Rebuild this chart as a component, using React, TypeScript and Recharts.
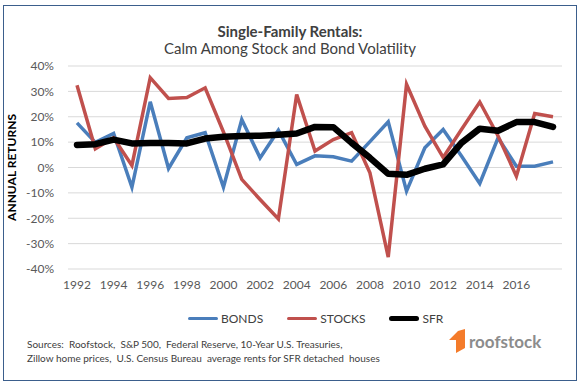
import React from 'react';
import { LineChart, Line, XAxis, YAxis, CartesianGrid, Label } from 'recharts';

const BLUE = '#4A7EBB';
const RED = '#C0504D';
const BLACK = '#000000';
const TEXT = '#404040';
const MUTED = '#595959';
const FONT = 'Lato, "Noto Sans", sans-serif';

const years = [
    1992, 1993, 1994, 1995, 1996, 1997, 1998, 1999, 2000, 2001, 2002, 2003, 2004, 2005,
    2006, 2007, 2008, 2009, 2010, 2011, 2012, 2013, 2014, 2015, 2016, 2017, 2018,
];
const bonds = [
    17.6, 9.9, 13.4, -7.8, 25.9, -0.4, 11.7, 13.7, -7.8, 18.9, 3.8, 14.7, 1.2, 4.6,
    4.2, 2.5, 10.2, 18, -9.3, 7.8, 15, 4.5, -6.3, 11.7, 0.5, 0.5, 2.2,
];
const stocks = [
    32.4, 7.4, 11.7, 0.8, 35.4, 27.2, 27.6, 31.4, 14, -4.7, -12.6, -20.3, 28.8, 6.5,
    11, 13.7, -2.1, -35.3, 32.8, 16.3, 4, 15, 25.8, 12.4, -3.4, 21.3, 20,
];
const sfr = [
    8.9, 9.2, 11, 9.5, 9.7, 9.7, 9.5, 11.4, 12.1, 12.4, 12.5, 12.9, 13.4, 16,
    15.9, 9.7, 3.8, -2.5, -2.9, -0.5, 1.2, 9.7, 15.3, 14.5, 17.9, 17.9, 16,
];
const yearTicks = [1992, 1994, 1996, 1998, 2000, 2002, 2004, 2006, 2008, 2010, 2012, 2014, 2016];
const pctTicks = [-40, -30, -20, -10, 0, 10, 20, 30, 40];

const legendItems = [
    { name: 'BONDS', color: BLUE, thick: 3.5 },
    { name: 'STOCKS', color: RED, thick: 3.5 },
    { name: 'SFR', color: BLACK, thick: 5 },
];

export default function App() {
    const chartData = years.map((y, i) => ({
        year: y,
        bonds: bonds[i],
        stocks: stocks[i],
        sfr: sfr[i],
    }));

    return (
        <div
            style={{
                position: 'absolute',
                left: 0,
                top: 0,
                width: 580,
                height: 384,
                background: '#fff',
                fontFamily: FONT,
            }}
        >
            {/* outer frame */}
            <div
                style={{
                    position: 'absolute',
                    left: 3,
                    top: 5,
                    width: 572,
                    height: 374,
                    border: '1.5px solid #3B5E8C',
                }}
            />
            <div
                style={{
                    position: 'absolute',
                    left: 0,
                    top: 23,
                    width: 580,
                    textAlign: 'center',
                    color: TEXT,
                    fontSize: 15,
                    lineHeight: '17px',
                }}
            >
                <div style={{ fontWeight: 700 }}>Single-Family Rentals:</div>
                <div>Calm Among Stock and Bond Volatility</div>
            </div>

            <LineChart
                width={580}
                height={384}
                data={chartData}
                margin={{ top: 66, right: 18, left: 8, bottom: 85 }}
                style={{ position: 'absolute', left: 0, top: 0 }}
            >
                <CartesianGrid stroke="#D9D9D9" vertical={false} />
                <XAxis
                    dataKey="year"
                    type="category"
                    ticks={yearTicks}
                    interval={0}
                    height={30}
                    padding={{ left: 9, right: 9 }}
                    axisLine={false}
                    tickLine={false}
                    tickSize={0}
                    tickMargin={11}
                    tick={{ fill: MUTED, fontSize: 12, fontFamily: FONT }}
                />
                <YAxis
                    domain={[-40, 40]}
                    ticks={pctTicks}
                    width={60}
                    axisLine={false}
                    tickLine={false}
                    tickSize={0}
                    tickMargin={14}
                    tickFormatter={(v: number) => `${v}%`}
                    tick={{ fill: MUTED, fontSize: 12, fontFamily: FONT }}
                >
                    <Label
                        value="ANNUAL RETURNS"
                        angle={-90}
                        position="insideLeft"
                        offset={4}
                        style={{ fill: '#000', fontSize: 12, fontWeight: 700, fontFamily: FONT, textAnchor: 'middle' }}
                    />
                </YAxis>
                <Line
                    dataKey="bonds"
                    stroke={BLUE}
                    strokeWidth={3.5}
                    dot={false}
                    isAnimationActive={false}
                />
                <Line
                    dataKey="stocks"
                    stroke={RED}
                    strokeWidth={3.5}
                    dot={false}
                    isAnimationActive={false}
                />
                <Line
                    dataKey="sfr"
                    stroke={BLACK}
                    strokeWidth={6.5}
                    strokeLinecap="round"
                    strokeLinejoin="round"
                    dot={false}
                    isAnimationActive={false}
                />
            </LineChart>

            {/* legend */}
            <div
                style={{
                    position: 'absolute',
                    left: 188,
                    top: 311,
                    display: 'flex',
                    alignItems: 'center',
                    color: TEXT,
                    fontSize: 12,
                }}
            >
                {legendItems.map((it) => (
                    <div key={it.name} style={{ display: 'flex', alignItems: 'center', marginRight: 24 }}>
                        <div
                            style={{
                                width: 30,
                                height: it.thick,
                                background: it.color,
                                borderRadius: it.thick / 2,
                                marginRight: 3,
                            }}
                        />
                        <span>{it.name}</span>
                    </div>
                ))}
            </div>

            {/* sources */}
            <div
                style={{
                    position: 'absolute',
                    left: 27,
                    top: 337,
                    color: TEXT,
                    fontSize: 10,
                    lineHeight: '14px',
                    whiteSpace: 'pre',
                }}
            >
                <div>Sources:  Roofstock,  S&amp;P 500,  Federal Reserve, 10-Year U.S. Treasuries,</div>
                <div>Zillow home prices,  U.S. Census Bureau  average rents for SFR detached  houses</div>
            </div>

            {/* logo */}
            <svg width={100} height={30} style={{ position: 'absolute', left: 446, top: 327 }}>
                <polygon points="19,2 19,21 10,26 10,13 3,13 12,4" fill="#F47B2A" />
                <text x={23} y={21} fontSize={17} fontWeight={700} fill="#8C8C8C" fontFamily={FONT}>
                    roofstock
                </text>
            </svg>
        </div>
    );
}
